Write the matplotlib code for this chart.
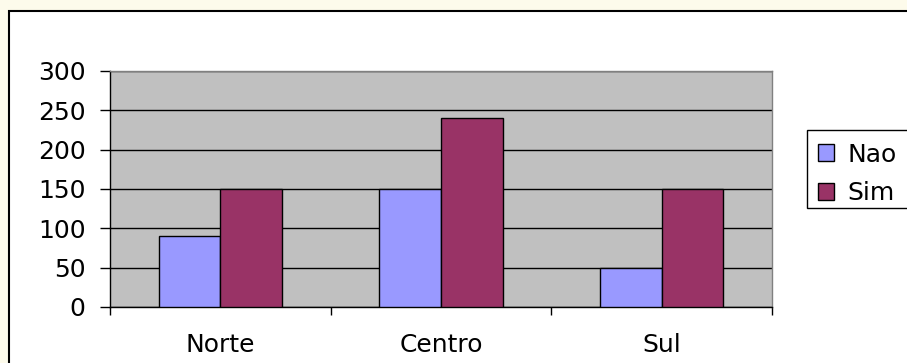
import matplotlib
matplotlib.use("Agg")
import matplotlib.pyplot as plt
import numpy as np
from matplotlib.patches import Rectangle

categories = ["Norte", "Centro", "Sul"]
nao = [90, 150, 50]
sim = [150, 240, 150]
series_names = ["Nao", "Sim"]

W, H = 907, 363
plt.rcParams["font.family"] = ["DejaVu Sans"]

fig = plt.figure(figsize=(W / 100, H / 100), dpi=100, facecolor="#fdfbeb")

# white chart area with black frame, running off right and bottom edges
fig.patches.append(Rectangle((9 / W, -0.1), 1.0, 1 - 11 / H + 0.1,
                             transform=fig.transFigure, facecolor="white",
                             edgecolor="black", lw=1.5, zorder=-1))
# legend box, also running off the right edge
fig.patches.append(Rectangle((807 / W, 1 - 208 / H), 0.2, 78 / H,
                             transform=fig.transFigure, facecolor="white",
                             edgecolor="black", lw=1, zorder=-0.5))

ax = fig.add_axes([110 / W, 1 - 307 / H, (772 - 110) / W, (307 - 71) / H])
ax.set_zorder(1)
ax.set_facecolor("#c0c0c0")

x = np.arange(len(categories))
bw = 0.28
ax.bar(x - bw / 2, nao, bw, color="#9999ff", edgecolor="black", lw=1, label=series_names[0], zorder=3)
ax.bar(x + bw / 2, sim, bw, color="#993366", edgecolor="black", lw=1, label=series_names[1], zorder=3)

ax.set_xlim(-0.5, len(categories) - 0.5)
ax.set_ylim(0, 300)
ax.set_yticks(np.arange(0, 301, 50))
ax.yaxis.grid(True, color="black", lw=1)
ax.set_axisbelow(True)

ax.set_xticks(x)
ax.set_xticklabels(categories)
ax.set_xticks(np.arange(-0.5, len(categories), 1), minor=True)
ax.tick_params(axis="x", which="major", length=0, pad=19, labelsize=18)
ax.tick_params(axis="x", which="minor", length=6, width=1, direction="out")
ax.tick_params(axis="y", length=7.2, width=1, pad=10.5, labelsize=18)

for s in ["left", "bottom"]:
    ax.spines[s].set_color("black")
    ax.spines[s].set_linewidth(1)
for s in ["top", "right"]:
    ax.spines[s].set_color("#808080")
    ax.spines[s].set_linewidth(1)

leg = fig.legend(loc="upper left", bbox_to_anchor=(810 / W, 1 - 135 / H),
                 borderaxespad=0, fontsize=18, frameon=False,
                 handlelength=0.65, handleheight=0.65, handletextpad=0.55,
                 borderpad=0.3, labelspacing=0.6)
leg.set_zorder(2)

fig.savefig("out.png", dpi=100, facecolor=fig.get_facecolor())
